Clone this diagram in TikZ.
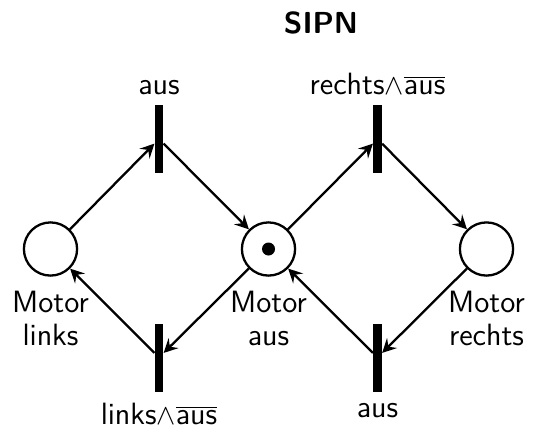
\documentclass[tikz,border=0pt]{standalone}
\usetikzlibrary{arrows.meta}
\begin{document}
\begin{tikzpicture}[x=0.5pt,y=-0.5pt,
  place/.style={circle,draw,line width=1.15pt,minimum size=26.6pt,inner sep=0pt},
  trans/.style={rectangle,fill=black,minimum width=4.2pt,minimum height=34pt,inner sep=0pt},
  token/.style={circle,fill=black,minimum size=6.5pt,inner sep=0pt},
  lbl/.style={font=\sffamily\fontsize{15.4}{16.5}\selectfont,inner sep=0pt,align=center},
  arc/.style={line width=1.15pt,-{Stealth[length=7pt,width=7pt,inset=2.6pt]}},
]
\useasboundingbox (0,0) rectangle (534,428);
% title
\node[lbl,font=\sffamily\bfseries\fontsize{15.2}{16.5}\selectfont,anchor=base] (title) at (321,33.5) {SIPN};
% places
\node[place] (pl) at (50.5,249) {};
\node[place] (pm) at (268.5,249) {};
\node[place] (pr) at (486.5,249) {};
\node[token] (tok) at (pm) {};
% transitions
\node[trans] (t1) at (159,139) {};
\node[trans] (t2) at (377.5,139) {};
\node[trans] (t3) at (159,357.5) {};
\node[trans] (t4) at (377.5,357.5) {};
% transition labels
\node[lbl,anchor=base] (l1) at (159,94.5) {aus};
\node[lbl,anchor=base] (l2) at (377.5,94.5) {rechts$\wedge\overline{\mbox{aus}}$};
\node[lbl,anchor=base] (l3) at (159,424.5) {links$\wedge\overline{\mbox{aus}}$};
\node[lbl,anchor=base] (l4) at (377.5,417) {aus};
% place labels
\node[lbl,anchor=north] (ml) at (50.5,290.5) {Motor\\links};
\node[lbl,anchor=north] (mm) at (268.5,290.5) {Motor\\aus};
\node[lbl,anchor=north] (mr) at (486.5,290.5) {Motor\\rechts};
% arcs
\draw[arc] (pl) -- (t1);
\draw[arc] (t1) -- (pm);
\draw[arc] (pm) -- (t2);
\draw[arc] (t2) -- (pr);
\draw[arc] (pr) -- (t4);
\draw[arc] (t4) -- (pm);
\draw[arc] (pm) -- (t3);
\draw[arc] (t3) -- (pl);
\end{tikzpicture}
\end{document}
